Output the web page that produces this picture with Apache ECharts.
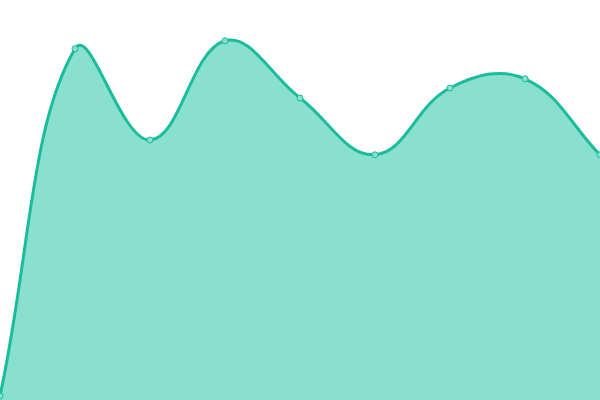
<!DOCTYPE html>
<html>
<head>
<meta charset="utf-8">
<script src="https://cdn.jsdelivr.net/npm/echarts@6/dist/echarts.min.js"></script>
<style>
  html, body { margin: 0; padding: 0; background: #fff; }
  #main { width: 600px; height: 400px; }
</style>
</head>
<body>
<div id="main"></div>
<script>
var categories = ['1', '2', '3', '4', '5', '6', '7', '8', '9'];
var values = [1, 87.8, 65, 89.8, 75.5, 61.3, 78, 80.3, 61.3];

var lineColor = '#1abc9c';
var fillColor = '#8ae0cf';
var tension = 0.4;

// spline control points; the ends use the point itself as neighbour
function controlPoints(pts, t, min, max) {
    var cps = [];
    for (var i = 0; i < pts.length; i++) {
        var p = pts[i];
        var prev = pts[i - 1] || p, next = pts[i + 1] || p;
        var d01 = Math.hypot(p[0] - prev[0], p[1] - prev[1]);
        var d12 = Math.hypot(next[0] - p[0], next[1] - p[1]);
        var s01 = d01 / (d01 + d12), s12 = d12 / (d01 + d12);
        var fa = t * s01, fb = t * s12;
        var cpPrev = [p[0] - fa * (next[0] - prev[0]), p[1] - fa * (next[1] - prev[1])];
        var cpNext = [p[0] + fb * (next[0] - prev[0]), p[1] + fb * (next[1] - prev[1])];
        [cpPrev, cpNext].forEach(function (c) {
            c[0] = Math.min(Math.max(c[0], min[0]), max[0]);
            c[1] = Math.min(Math.max(c[1], min[1]), max[1]);
        });
        cps.push({ prev: cpPrev, next: cpNext });
    }
    return cps;
}

function renderItem(params, api) {
    if (params.dataIndex !== 0) return null;
    var pts = values.map(function (v, i) { return api.coord([i, v]); });
    var cs = params.coordSys;
    var cps = controlPoints(pts, tension, [cs.x, cs.y], [cs.x + cs.width, cs.y + cs.height]);
    var d = 'M' + pts[0][0] + ' ' + pts[0][1];
    for (var i = 0; i < pts.length - 1; i++) {
        var a = cps[i].next, b = cps[i + 1].prev, n = pts[i + 1];
        d += ' C' + a[0] + ' ' + a[1] + ' ' + b[0] + ' ' + b[1] + ' ' + n[0] + ' ' + n[1];
    }
    var base = api.coord([0, 0])[1];
    var last = pts[pts.length - 1];
    var area = d + ' L' + last[0] + ' ' + base + ' L' + pts[0][0] + ' ' + base + ' Z';
    var children = [
        { type: 'path', shape: { pathData: area }, style: { fill: fillColor, stroke: null } },
        { type: 'path', shape: { pathData: d }, style: { fill: null, stroke: lineColor, lineWidth: 3 } }
    ];
    pts.forEach(function (p) {
        children.push({
            type: 'circle',
            shape: { cx: p[0], cy: p[1], r: 3 },
            style: { fill: fillColor, stroke: lineColor, lineWidth: 1 }
        });
    });
    return { type: 'group', children: children };
}

var myChart = echarts.init(document.getElementById('main'));
var option = {
    animation: false,
    grid: { left: 0, right: 0, top: 0, bottom: 0 },
    xAxis: {
        type: 'category',
        boundaryGap: false,
        data: categories,
        show: false
    },
    yAxis: {
        type: 'value',
        min: 0,
        max: 100,
        show: false
    },
    series: [
        {
            type: 'custom',
            renderItem: renderItem,
            clip: false,
            data: values.map(function (v, i) { return [i, v]; }),
            encode: { x: 0, y: 1 }
        }
    ]
};
myChart.setOption(option);
</script>
</body>
</html>
